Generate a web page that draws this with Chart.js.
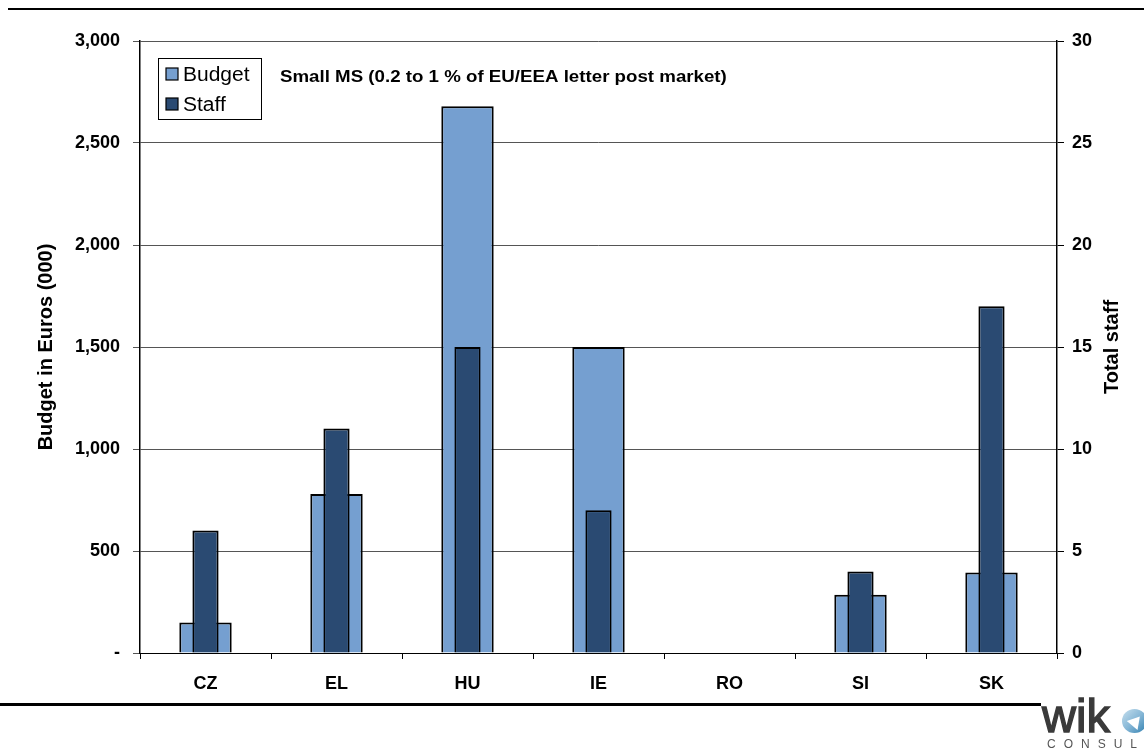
<!DOCTYPE html>
<html>
<head>
<meta charset="utf-8">
<script src="https://cdn.jsdelivr.net/npm/chart.js@4/dist/chart.umd.min.js"></script>
<style>
  html, body { margin: 0; padding: 0; background: #fff; }
  #wrap { position: relative; width: 1144px; height: 749px; overflow: hidden; }
  #chart { position: absolute; left: 0; top: 0; }
  .rule { position: absolute; background: #000; }
  #logo { position: absolute; left: 1042px; top: 692px; font-family: "Liberation Sans", Arial, sans-serif; }
  #logo .word { font-size: 47px; font-weight: normal; color: #3a3a3a; -webkit-text-stroke: 1.4px #3a3a3a; letter-spacing: 0px; line-height: 47px; }
  #logo .sub { position: absolute; left: 5px; top: 45px; font-size: 12px; color: #555; letter-spacing: 8px; white-space: nowrap; }
  #logo .icon { position: absolute; left: 80px; top: 17px; width: 25px; height: 24px; border-radius: 50%;
                background: linear-gradient(135deg, #c6dfee 0%, #86b7d6 50%, #2f7fb0 100%); }
  #logo .icon i { position: absolute; left: 7px; top: 6px; width: 0; height: 0;
                  border-left: 7px solid transparent; border-right: 7px solid transparent; border-bottom: 12px solid #fff; transform: rotate(40deg); }
</style>
</head>
<body>
<div id="wrap">
  <canvas id="chart" width="1144" height="749"></canvas>
  <div class="rule" style="left:8px; top:8px; width:1136px; height:2px;"></div>
  <div class="rule" style="left:0; top:703px; width:1041px; height:3px;"></div>
  <div id="logo"><span class="word">wik</span><div class="icon"><i></i></div><div class="sub">CONSULT</div></div>
</div>
<script>
// Member states with a small share (0.2 to 1 %) of the EU/EEA letter post market
const countries = ['CZ', 'EL', 'HU', 'IE', 'RO', 'SI', 'SK'];
// Regulator budget, thousand euros (no figure for RO)
const budget = [150, 780, 2680, 1500, null, 285, 395];
// Total staff of the regulator
const staff = [6, 11, 15, 7, null, 4, 17];
const budgetTicks = [0, 500, 1000, 1500, 2000, 2500, 3000];
const staffTicks = [0, 5, 10, 15, 20, 25, 30];
const chartTitle = 'Small MS (0.2 to 1 % of EU/EEA letter post market)';
const staffAxisTitle = 'Total staff';

const FONT = '"Liberation Sans", Arial, sans-serif';

// Legend box, subtitle and right-hand axis title
const innerLabels = {
  id: 'innerLabels',
  afterDraw(chart) {
    const ctx = chart.ctx;
    const a = chart.chartArea;
    ctx.save();
    // legend frame
    const lx = a.left + 18, ly = a.top + 17, lw = 103, lh = 61;
    ctx.fillStyle = '#fff';
    ctx.fillRect(lx, ly, lw, lh);
    ctx.strokeStyle = '#000';
    ctx.lineWidth = 1;
    ctx.strokeRect(lx + 0.5, ly + 0.5, lw, lh);
    ctx.font = '20px ' + FONT;
    ctx.textBaseline = 'middle';
    chart.data.datasets.forEach((ds, i) => {
      const cy = ly + 16 + i * 30;
      ctx.fillStyle = ds.backgroundColor;
      ctx.fillRect(lx + 8, cy - 6, 12, 12);
      ctx.strokeStyle = '#000';
      ctx.lineWidth = 1.2;
      ctx.strokeRect(lx + 8, cy - 6, 12, 12);
      ctx.fillStyle = '#000';
      ctx.save();
      ctx.translate(lx + 25, cy + 1);
      ctx.scale(1.05, 1);
      ctx.fillText(ds.label, 0, 0);
      ctx.restore();
    });
    // subtitle
    ctx.font = 'bold 17px ' + FONT;
    ctx.fillStyle = '#000';
    ctx.save();
    ctx.translate(a.left + 140, a.top + 36);
    ctx.scale(1.1, 1);
    ctx.fillText(chartTitle, 0, 0);
    ctx.restore();
    // right axis title, reading bottom to top
    ctx.save();
    ctx.font = 'bold 20px ' + FONT;
    ctx.textAlign = 'center';
    ctx.translate(chart.scales.y1.right - 32, (a.top + a.bottom) / 2);
    ctx.rotate(-Math.PI / 2);
    ctx.fillText(staffAxisTitle, 0, 0);
    ctx.restore();
    ctx.restore();
  }
};

new Chart(document.getElementById('chart'), {
  type: 'bar',
  data: {
    labels: countries,
    datasets: [
      {
        label: 'Budget',
        data: budget,
        yAxisID: 'y',
        backgroundColor: '#759fd0',
        borderColor: '#000',
        borderWidth: 2,
        barPercentage: 0.4,
        categoryPercentage: 1,
        grouped: false,
        order: 1
      },
      {
        label: 'Staff',
        data: staff,
        yAxisID: 'y1',
        backgroundColor: '#2a4a72',
        borderColor: '#000',
        borderWidth: 2,
        barPercentage: 0.2,
        categoryPercentage: 1,
        grouped: false,
        order: 0
      }
    ]
  },
  options: {
    responsive: false,
    animation: false,
    devicePixelRatio: 1,
    layout: { padding: { top: 41, left: 0, right: 0, bottom: 0 } },
    plugins: {
      legend: { display: false },
      tooltip: { enabled: false }
    },
    scales: {
      x: {
        grid: { offset: true, drawOnChartArea: false, drawTicks: true, tickLength: 6, color: '#000' },
        border: { color: '#000', width: 1 },
        ticks: { color: '#000', font: { family: FONT, size: 18, weight: 'bold' }, padding: 14 },
        afterFit: s => { s.height = 96; }
      },
      y: {
        position: 'left',
        min: 0, max: 3000,
        afterBuildTicks: s => { s.ticks = budgetTicks.map(v => ({ value: v })); },
        grid: { color: '#555', lineWidth: 1, tickLength: 7 },
        border: { color: '#000', width: 1.5 },
        ticks: {
          color: '#000',
          font: { family: FONT, size: 18, weight: 'bold' },
          padding: 13,
          callback: v => v === 0 ? '-' : v.toLocaleString('en-US')
        },
        title: {
          display: true,
          text: 'Budget in Euros (000)',
          color: '#000',
          font: { family: FONT, size: 20, weight: 'bold' },
          padding: { top: 34, bottom: 0 }
        },
        afterFit: s => { s.width = 140; }
      },
      y1: {
        position: 'right',
        min: 0, max: 30,
        afterBuildTicks: s => { s.ticks = staffTicks.map(v => ({ value: v })); },
        grid: { drawOnChartArea: false, color: '#000', tickLength: 7 },
        border: { color: '#000', width: 1.5 },
        ticks: {
          color: '#000',
          font: { family: FONT, size: 18, weight: 'bold' },
          padding: 8
        },
        afterFit: s => { s.width = 87; }
      }
    }
  },
  plugins: [innerLabels]
});
</script>
</body>
</html>
